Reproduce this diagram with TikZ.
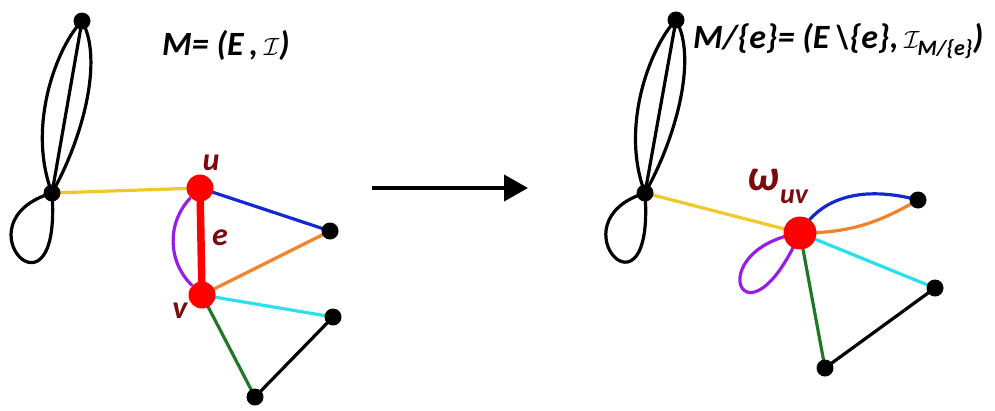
\documentclass[tikz,border=0pt]{standalone}
\usepackage{fontspec}
\setmainfont{Carlito}
\usetikzlibrary{arrows.meta,backgrounds}
\definecolor{lbl}{RGB}{122,10,12}
\definecolor{cyel}{RGB}{240,200,40}
\definecolor{cblue}{RGB}{20,40,210}
\definecolor{corange}{RGB}{240,130,40}
\definecolor{ccyan}{RGB}{40,225,235}
\definecolor{cgreen}{RGB}{30,120,40}
\definecolor{cpurple}{RGB}{150,30,230}
\tikzset{
  x=1pt, y=-1pt,
  vtx/.style={circle, fill=black, inner sep=0pt, minimum size=17pt},
  hot/.style={circle, fill=red, inner sep=0pt, minimum size=27pt},
  edge/.style={line width=3.2pt},
  lab/.style={text=lbl, font=\fontsize{32}{34}\selectfont\bfseries\itshape, inner sep=0pt},
  ttl/.style={font=\fontsize{34}{36}\selectfont\bfseries\itshape, inner sep=0pt, anchor=base west},
}
\begin{document}
\begin{tikzpicture}
\useasboundingbox (0,0) rectangle (995,410);

% ---------- graph before the contraction ----------
\node[vtx] (a) at (82,21) {};
\node[vtx] (b) at (52,193) {};
\node[hot] (u) at (200,188) {};
\node[hot] (v) at (202,295) {};
\node[vtx] (c) at (330,231) {};
\node[vtx] (d) at (333,317) {};
\node[vtx] (f) at (255,397) {};

\begin{scope}[on background layer]
  \draw[edge] (b.center) -- (a.center);
  \draw[edge] (b.center) .. controls (26,125) and (58,45) .. (a.center);
  \draw[edge] (b.center) .. controls (82,140) and (104,60) .. (a.center);
  \draw[edge] (b.center) .. controls (-45,222) and (62,334) .. (b.center);
  \draw[edge, cyel] (b.center) -- (u.center);
  \draw[line width=7.5pt, red] (u.center) -- (v.center);
  \draw[edge, cpurple] (u) to[bend right=45] (v);
  \draw[edge, cblue] (u.center) -- (c.center);
  \draw[edge, corange] (v.center) -- (c.center);
  \draw[edge, ccyan] (v.center) -- (d.center);
  \draw[edge, cgreen] (v.center) -- (f.center);
  \draw[edge] (d.center) -- (f.center);
\end{scope}

\node[lab] (ulab) at (211,163) {u};
\node[lab] (elab) at (220,238) {e};
\node[lab] (vlab) at (180,311) {v};

\node[ttl] (t1) at (162,55) {M= (E\,,\,$\mathcal{I}$)};

% ---------- arrow ----------
\coordinate (p) at (372,188);
\coordinate (q) at (528,188);
\draw[line width=4pt, -{Triangle[length=24pt,width=26pt]}] (p) -- (q);

% ---------- graph after the contraction ----------
\node[vtx] (a2) at (676,20) {};
\node[vtx] (b2) at (645,193) {};
\node[hot, minimum size=33pt] (w) at (800,233) {};
\node[vtx] (c2) at (918,200) {};
\node[vtx] (d2) at (935,288) {};
\node[vtx] (f2) at (825,368) {};

\begin{scope}[on background layer]
  \draw[edge] (b2.center) -- (a2.center);
  \draw[edge] (b2.center) .. controls (619,125) and (652,44) .. (a2.center);
  \draw[edge] (b2.center) .. controls (675,140) and (698,59) .. (a2.center);
  \draw[edge] (b2.center) .. controls (552,222) and (655,333) .. (b2.center);
  \draw[edge, cyel] (b2.center) -- (w.center);
  \draw[edge, cblue] (w.center) to[out=60, in=165] (c2.center);
  \draw[edge, corange] (w.center) to[out=0, in=210] (c2.center);
  \draw[edge, cpurple] (w.center) .. controls (698,250) and (745,358) .. (w.center);
  \draw[edge, ccyan] (w.center) -- (d2.center);
  \draw[edge, cgreen] (w.center) -- (f2.center);
  \draw[edge] (d2.center) -- (f2.center);
\end{scope}

\node[lab, font=\fontsize{44}{46}\selectfont\bfseries\itshape] (wlab) at (763,180) {ω};
\node[lab, font=\fontsize{28}{30}\selectfont\bfseries\itshape] (wsub) at (794,197) {uv};

\node[ttl] (t2) at (693,48) {M/\{e\}= (E\,\textbackslash\{e\},\,$\mathcal{I}_{\hbox{\fontsize{22}{24}\selectfont\bfseries\itshape M/\{e\}}}$)};
\end{tikzpicture}
\end{document}
